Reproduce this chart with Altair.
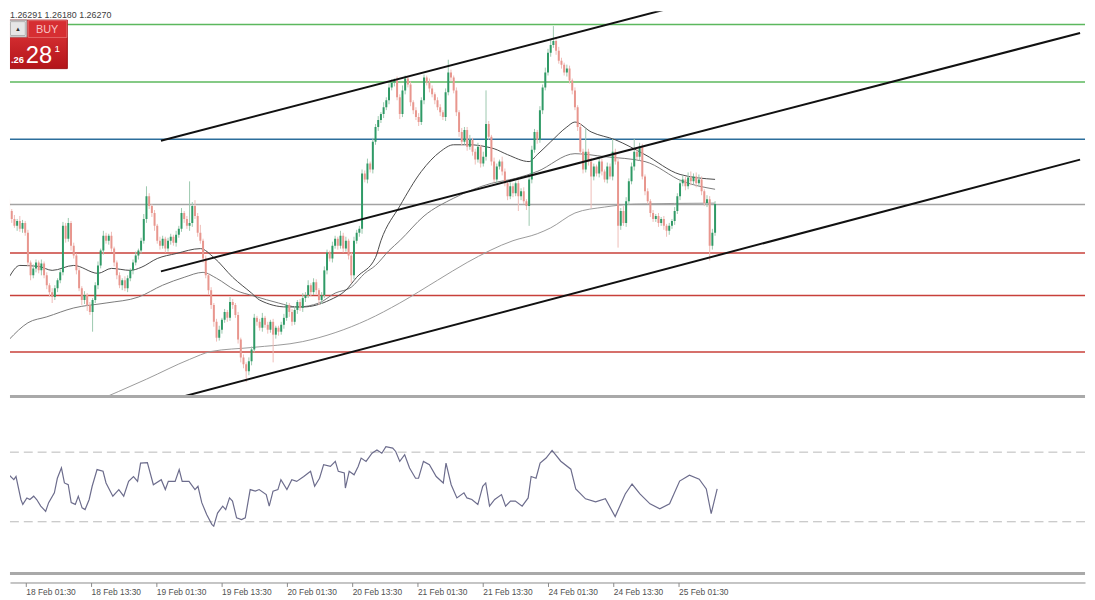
import altair as alt
import pandas as pd

# ---------------- data (GBPUSD-like M30 chart) ----------------
# bar index 0 = 18 Feb 01:30 ; one bar = 30 minutes (weekend bars absent)
first_bar = -8
first_open = 1.2632
closes = [
    1.2620, 1.2612, 1.2605, 1.2610, 1.2602, 1.2608, 1.2598, 1.2568, 1.2555, 1.2562,
    1.2568, 1.2560, 1.2567, 1.2555, 1.2545, 1.2538, 1.2533, 1.2542, 1.2550, 1.2558,
    1.2605, 1.2592, 1.2608, 1.2585, 1.2575, 1.2560, 1.2542, 1.2530, 1.2535, 1.2525,
    1.2518, 1.2530, 1.2545, 1.2565, 1.2580, 1.2595, 1.2590, 1.2595, 1.2582, 1.2568,
    1.2555, 1.2545, 1.2550, 1.2542, 1.2552, 1.2560, 1.2568, 1.2575, 1.2580, 1.2590,
    1.2612, 1.2635, 1.2625, 1.2618, 1.2605, 1.2590, 1.2585, 1.2592, 1.2582, 1.2590,
    1.2594, 1.2588, 1.2596, 1.2602, 1.2618, 1.2612, 1.2605, 1.2608, 1.2625, 1.2615,
    1.2598, 1.2590, 1.2572, 1.2555, 1.2540, 1.2525, 1.2508, 1.2492, 1.2500, 1.2510,
    1.2518, 1.2512, 1.2528, 1.2525, 1.2515, 1.2490, 1.2472, 1.2465, 1.2458, 1.2468,
    1.2480, 1.2512, 1.2508, 1.2502, 1.2512, 1.2505, 1.2500, 1.2508, 1.2495, 1.2502,
    1.2498, 1.2505, 1.2512, 1.2525, 1.2518, 1.2508, 1.2520, 1.2528, 1.2522, 1.2532,
    1.2535, 1.2545, 1.2538, 1.2548, 1.2540, 1.2530, 1.2535, 1.2560, 1.2578, 1.2572,
    1.2585, 1.2592, 1.2585, 1.2595, 1.2582, 1.2590, 1.2575, 1.2555, 1.2590, 1.2598,
    1.2602, 1.2658, 1.2652, 1.2668, 1.2662, 1.2690, 1.2705, 1.2712, 1.2718, 1.2725,
    1.2732, 1.2745, 1.2750, 1.2752, 1.2735, 1.2718, 1.2742, 1.2754, 1.2748, 1.2730,
    1.2722, 1.2715, 1.2710, 1.2732, 1.2755, 1.2750, 1.2744, 1.2738, 1.2732, 1.2725,
    1.2720, 1.2715, 1.2740, 1.2760, 1.2755, 1.2742, 1.2720, 1.2700, 1.2690, 1.2702,
    1.2685, 1.2692, 1.2680, 1.2672, 1.2685, 1.2668, 1.2675, 1.2708, 1.2695, 1.2670,
    1.2652, 1.2665, 1.2670, 1.2660, 1.2648, 1.2635, 1.2645, 1.2638, 1.2648, 1.2635,
    1.2640, 1.2630, 1.2625, 1.2652, 1.2682, 1.2700, 1.2692, 1.2722, 1.2745, 1.2760,
    1.2780, 1.2788, 1.2792, 1.2782, 1.2772, 1.2768, 1.2760, 1.2764, 1.2752, 1.2742,
    1.2725, 1.2705, 1.2680, 1.2662, 1.2680, 1.2670, 1.2655, 1.2665, 1.2658, 1.2670,
    1.2660, 1.2652, 1.2665, 1.2655, 1.2680, 1.2670, 1.2605, 1.2620, 1.2608, 1.2630,
    1.2650, 1.2665, 1.2680, 1.2675, 1.2685, 1.2655, 1.2640, 1.2630, 1.2618, 1.2612,
    1.2615, 1.2608, 1.2612, 1.2605, 1.2600, 1.2605, 1.2610, 1.2620, 1.2635, 1.2648,
    1.2652, 1.2645, 1.2654, 1.2650, 1.2655, 1.2648, 1.2652, 1.2640, 1.2628, 1.2632,
    1.2585, 1.2598, 1.2627,
]
# wick lengths in pips above / below the candle body
upper_wick = [
    3, 2, 4, 2, 5, 3, 2, 3, 2, 4,  3, 2, 4, 2, 3, 2, 4, 3, 2, 3,
    4, 3, 5, 2, 3, 2, 3, 2, 4, 2,  3, 2, 3, 4, 2, 5, 3, 2, 4, 2,
    2, 3, 2, 4, 3, 2, 3, 4, 2, 3,  5, 10, 3, 2, 3, 2, 4, 3, 2, 3,
    3, 2, 4, 3, 5, 2, 3, 42, 4, 6,  3, 8, 2, 3, 2, 3, 2, 3, 4, 2,
    3, 2, 5, 3, 2, 3, 2, 3, 2, 4,  3, 4, 2, 3, 5, 2, 3, 2, 3, 2,
    2, 3, 4, 3, 2, 3, 4, 2, 3, 5,  3, 5, 2, 4, 3, 2, 3, 4, 3, 2,
    4, 3, 2, 5, 3, 4, 2, 3, 4, 3,  3, 4, 3, 5, 2, 4, 3, 4, 2, 5,
    3, 4, 3, 2, 4, 3, 5, 3, 2, 3,  2, 3, 4, 3, 3, 2, 4, 3, 2, 3,
    3, 2, 4, 13, 3, 2, 3, 2, 4, 3,  3, 5, 2, 3, 4, 2, 5, 34, 3, 2,
    4, 3, 2, 5, 3, 2, 4, 3, 2, 3,  3, 4, 2, 3, 4, 3, 2, 4, 3, 5,
    4, 5, 15, 3, 4, 3, 2, 4, 3, 2,  3, 2, 4, 3, 23, 3, 4, 3, 2, 4,
    3, 2, 4, 3, 13, 3, 4, 3, 5, 4,  3, 4, 13, 3, 4, 3, 2, 3, 2, 3,
    2, 3, 2, 3, 2, 3, 2, 4, 3, 4,  4, 3, 5, 6, 3, 4, 5, 3, 2, 4,
    3, 4, 3,
]
lower_wick = [
    3, 4, 2, 5, 3, 4, 3, 4, 5, 3,  4, 3, 5, 3, 4, 5, 6, 3, 4, 3,
    3, 4, 3, 5, 3, 4, 3, 5, 4, 6,  3, 20, 3, 4, 3, 4, 3, 4, 3, 4,
    4, 3, 5, 3, 4, 3, 4, 3, 4, 3,  3, 4, 3, 4, 5, 3, 4, 3, 4, 3,
    4, 3, 4, 3, 3, 4, 3, 5, 4, 3,  4, 3, 4, 3, 5, 4, 5, 4, 3, 4,
    3, 4, 3, 4, 3, 4, 5, 4, 11, 4,  4, 3, 4, 3, 4, 3, 4, 3, 28, 4,
    4, 3, 4, 3, 5, 4, 3, 4, 3, 4,  4, 3, 4, 3, 4, 5, 4, 3, 4, 3,
    4, 3, 4, 3, 4, 3, 4, 8, 4, 3,  4, 5, 3, 4, 3, 4, 3, 4, 3, 4,
    3, 4, 3, 4, 3, 5, 3, 4, 3, 4,  4, 3, 4, 3, 4, 3, 4, 3, 4, 3,
    4, 3, 4, 3, 4, 3, 4, 5, 4, 3,  4, 3, 4, 5, 3, 4, 3, 4, 3, 4,
    3, 4, 3, 4, 3, 4, 3, 4, 3, 15,  4, 3, 4, 20, 4, 3, 4, 3, 4, 3,
    3, 4, 3, 4, 3, 4, 3, 4, 3, 4,  3, 4, 3, 4, 3, 4, 32, 4, 3, 4,
    4, 3, 4, 3, 4, 3, 22, 4, 3, 4,  4, 3, 4, 3, 4, 3, 4, 3, 4, 3,
    3, 4, 3, 4, 6, 4, 3, 4, 3, 4,  3, 4, 3, 4, 3, 4, 3, 4, 3, 4,
    15, 4, 3,
]

tick_bars = [0, 24, 48, 72, 96, 120, 144, 168, 192, 216, 240]
tick_labels = ["18 Feb 01:30", "18 Feb 13:30", "19 Feb 01:30", "19 Feb 13:30",
               "20 Feb 01:30", "20 Feb 13:30", "21 Feb 01:30", "21 Feb 13:30",
               "24 Feb 01:30", "24 Feb 13:30", "25 Feb 01:30"]

level_prices = [1.28085, 1.27505, 1.26925, 1.26265, 1.25775, 1.25345, 1.24775]
level_colors = ["#5cb85e", "#5cb85e", "#2c6e9c", "#a3a3a3", "#c8403a", "#c8403a", "#c8403a"]

ma_fast_bar = [-8, -4, 3, 8, 16, 25, 30, 37, 41, 47, 54, 63, 68, 75, 82, 85, 95, 101, 111, 117,
               121, 128, 130, 137, 145, 152, 157, 163, 169, 172, 177, 185, 188, 193, 199, 202,
               208, 217, 228, 241, 254]
ma_fast_val = [1.2553, 1.2565, 1.2564, 1.2560, 1.2565, 1.2557, 1.2562, 1.2560, 1.2563, 1.2572,
               1.2577, 1.2582, 1.2573, 1.2553, 1.2537, 1.2530, 1.2523, 1.2523, 1.2530, 1.2540,
               1.2553, 1.2573, 1.2590, 1.2625, 1.2660, 1.2680, 1.2687, 1.2687, 1.2685, 1.2683,
               1.2677, 1.2670, 1.2677, 1.2690, 1.2705, 1.2710, 1.2700, 1.2692, 1.2677, 1.2657,
               1.2652]
ma_mid_bar = [-8, -1, 6, 16, 28, 40, 49, 57, 64, 69, 76, 83, 92, 99, 107, 113, 119, 124, 128,
              133, 137, 146, 157, 171, 180, 188, 202, 213, 228, 242, 254]
ma_mid_val = [1.2490, 1.2507, 1.2513, 1.2522, 1.2527, 1.2533, 1.2545, 1.2553, 1.2558, 1.2552,
              1.2540, 1.2534, 1.2527, 1.2523, 1.2527, 1.2537, 1.2543, 1.2557, 1.2565, 1.2580,
              1.2590, 1.2615, 1.2633, 1.2648, 1.2653, 1.2660, 1.2678, 1.2675, 1.2670, 1.2650,
              1.2642]
ma_slow_bar = [22, 43, 59, 67, 82, 101, 113, 125, 137, 151, 162, 179, 188, 193, 202, 213, 224, 254]
ma_slow_val = [1.2425, 1.2450, 1.2470, 1.2478, 1.2482, 1.2488, 1.2497, 1.2510, 1.2527, 1.2550,
               1.2568, 1.2590, 1.2597, 1.2603, 1.2618, 1.2624, 1.2627, 1.2628]

# trend channel anchor points (bar index, price)
channel_names = ["upper", "middle", "lower"]
channel_bar_a = [48.36, 48.36, 56.0]
channel_price_a = [1.2691, 1.2559, 1.2432]
channel_bar_b = [241.45, 389.45, 389.45]
channel_price_b = [1.2828, 1.2800, 1.2672]

rsi_bar = [-8.7, -6.2, -4.4, -3.6, -1.8, -1.1, 0.4, 1.5, 2.9, 4.0,
           5.5, 7.3, 8.4, 10.5, 11.6, 13.1, 14.2, 15.6, 16.7, 18.2,
           19.3, 20.7, 21.8, 23.3, 24.4, 26.2, 28.4, 29.5, 32.0, 34.2,
           36.0, 37.8, 39.6, 41.1, 42.2, 44.7, 46.9, 49.8, 51.3, 52.4,
           54.9, 56.4, 57.5, 60.0, 62.2, 63.3, 64.7, 66.5, 68.4, 69.1,
           70.5, 72.4, 73.5, 74.9, 76.0, 77.5, 79.3, 80.7, 82.5, 84.4,
           85.8, 88.4, 89.5, 90.9, 92.7, 93.8, 96.0, 97.8, 99.6, 102.2,
           104.7, 106.2, 108.0, 109.5, 112.0, 113.8, 114.9, 117.1, 117.5, 118.9,
           120.7, 122.2, 123.3, 125.1, 127.3, 129.1, 130.9, 132.4, 134.9, 136.0,
           137.5, 139.3, 141.1, 143.3, 144.4, 146.2, 148.4, 150.9, 153.5, 154.5,
           156.4, 158.5, 161.1, 162.2, 164.0, 166.2, 168.0, 169.1, 170.5, 172.4,
           174.9, 176.4, 178.2, 180.0, 182.5, 184.7, 185.8, 187.6, 189.1, 191.3,
           193.5, 196.7, 200.4, 202.2, 205.8, 209.5, 213.1, 216.7, 220.4, 222.9,
           225.8, 229.5, 233.1, 236.7, 240.4, 244.0, 247.6, 250.2, 252.0, 254.2]
rsi_val = [63.7, 57, 54.2, 56, 42.8, 40, 43.7, 42.8, 44.7, 42.8,
           39, 36, 41, 46.6, 55, 61, 52.3, 51.3, 41, 40,
           44.7, 38, 37, 42.8, 50.4, 60, 59, 52.3, 44.7, 48.5,
           44.7, 53.2, 56, 53.2, 63.7, 64, 51.3, 54.2, 48.5, 53.2,
           53.2, 60, 53.2, 53.2, 48.5, 50.4, 41, 34.2, 28.5, 27.5,
           35, 39, 37, 43.7, 41.9, 32.3, 31.3, 32.3, 48.5, 47.6,
           48.5, 45.6, 39, 47.6, 48.5, 54.2, 48.5, 54.2, 53.2, 56,
           59, 50.4, 55, 62.8, 61.8, 64.7, 59, 58, 49.4, 59,
           57, 61.8, 66.6, 64.7, 69.4, 71.3, 69.4, 73.2, 72.3, 70.4,
           64.7, 68.5, 60.9, 55, 55, 64.7, 62.8, 56, 52.3, 63.7,
           51.3, 43.7, 46.6, 43.7, 42.8, 39.9, 50.4, 52.3, 39, 42.8,
           45.6, 39, 41.9, 41.9, 39, 43.7, 56, 55, 63.7, 66.6,
           71, 64.8, 60.2, 48.9, 43.2, 41.5, 43.2, 33, 46, 51.7,
           46, 40.3, 37.5, 40.3, 53.4, 56.8, 54.5, 48.9, 34.7, 48.9]
rsi_levels = [70, 30]

header_text = "1.26291 1.26180 1.26270"

# ---------------- tables ----------------
n = len(closes)
opens = [first_open] + closes[:-1]
rows = []
for k in range(n):
    o, c = opens[k], closes[k]
    up = c >= o
    rows.append({
        "bar": first_bar + k, "open": o, "close": c,
        "high": max(o, c) + upper_wick[k] / 10000.0,
        "low": min(o, c) - lower_wick[k] / 10000.0,
        "body": "#2f9a66" if up else "#e8968e",
        "wick": "#9cc8ae" if up else "#efbcb7",
    })
candles = pd.DataFrame(rows)

ma_df = pd.concat([
    pd.DataFrame({"bar": ma_slow_bar, "val": ma_slow_val, "ma": "slow", "color": "#9a9a9a"}),
    pd.DataFrame({"bar": ma_mid_bar, "val": ma_mid_val, "ma": "mid", "color": "#7a7a7a"}),
    pd.DataFrame({"bar": ma_fast_bar, "val": ma_fast_val, "ma": "fast", "color": "#4a4a4a"}),
])
chan_rows = []
for nm, ba, pa, bb, pb in zip(channel_names, channel_bar_a, channel_price_a, channel_bar_b, channel_price_b):
    chan_rows.append({"name": nm, "bar": ba, "price": pa})
    chan_rows.append({"name": nm, "bar": bb, "price": pb})
channels = pd.DataFrame(chan_rows)
rsi_df = pd.DataFrame({"bar": rsi_bar, "rsi": rsi_val})
rsi_lv = pd.DataFrame({"lvl": rsi_levels})
one = pd.DataFrame({"k": [0]})

# ---------------- scales / sizes ----------------
W = 1087
H_MAIN = 390
H_RSI = 176
xs = alt.Scale(domain=[-5.818, 389.45], nice=False, zero=False)
ys = alt.Scale(domain=[1.2432, 1.2822], nice=False, zero=False)
X = alt.X("bar:Q", scale=xs, axis=None)

level_layers = []
for p, col in zip(level_prices, level_colors):
    level_layers.append(
        alt.Chart(pd.DataFrame({"price": [p]})).mark_rule(strokeWidth=1.5, color=col).encode(
            y=alt.Y("price:Q", scale=ys, axis=None)))

mas = alt.Chart(ma_df).mark_line(strokeWidth=1, clip=True, interpolate="monotone").encode(
    x=X, y=alt.Y("val:Q", scale=ys, axis=None), detail="ma:N",
    color=alt.Color("color:N", scale=None))

wicks = alt.Chart(candles).mark_rule(strokeWidth=1, clip=True).encode(
    x=X, y=alt.Y("low:Q", scale=ys, axis=None), y2="high:Q",
    color=alt.Color("wick:N", scale=None))
bodies = alt.Chart(candles).mark_bar(size=2, clip=True).encode(
    x=X, y=alt.Y("open:Q", scale=ys, axis=None), y2="close:Q",
    color=alt.Color("body:N", scale=None))

chan = alt.Chart(channels).mark_line(color="#111111", strokeWidth=2, clip=True).encode(
    x=X, y=alt.Y("price:Q", scale=ys, axis=None), detail="name:N")

sep_main = alt.Chart(one).mark_rule(color="#a9a9a9", strokeWidth=3).encode(y=alt.value(H_MAIN - 0.5))

header = alt.Chart(one).mark_text(text=header_text, align="left", baseline="top", font="Liberation Sans",
                                  fontSize=9, color="#404040").encode(x=alt.value(0), y=alt.value(0))

red_grad = alt.Gradient(gradient="linear", x1=0, x2=0, y1=0, y2=1,
                        stops=[alt.GradientStop(offset=0, color="#e2383b"),
                               alt.GradientStop(offset=1, color="#b3151a")])
red_box = alt.Chart(one).mark_rect(color=red_grad, stroke="#9e1115", strokeWidth=1, clip=True).encode(
    x=alt.value(-2), x2=alt.value(58), y=alt.value(9), y2=alt.value(58))
buy_box = alt.Chart(one).mark_rect(color="#d62e32", stroke="#f08a8a", strokeWidth=0.6, clip=True).encode(
    x=alt.value(18.5), x2=alt.value(57.5), y=alt.value(9.5), y2=alt.value(26.5))
white_box = alt.Chart(one).mark_rect(color="#ffffff", stroke="#9a9a9a", strokeWidth=1, clip=True).encode(
    x=alt.value(-2), x2=alt.value(17), y=alt.value(9), y2=alt.value(26))
btn = alt.Chart(one).mark_rect(color="#e6e6e6", stroke="#b0b0b0", strokeWidth=1, clip=True).encode(
    x=alt.value(0.5), x2=alt.value(15.5), y=alt.value(10.5), y2=alt.value(24.5))
btn_arrow = alt.Chart(one).mark_text(text="▲", fontSize=6, color="#333333", clip=True).encode(
    x=alt.value(8), y=alt.value(17.5))
buy_txt = alt.Chart(one).mark_text(text="BUY", font="Liberation Sans", fontSize=11, color="#f7c4c4",
                                   baseline="middle").encode(x=alt.value(37.5), y=alt.value(19))
small_txt = alt.Chart(one).mark_text(text=".26", font="Liberation Sans", fontSize=9.5, fontWeight="bold",
                                     color="#ffffff", align="left", baseline="alphabetic").encode(
    x=alt.value(1), y=alt.value(52))
big_txt = alt.Chart(one).mark_text(text="28", font="Liberation Sans", fontSize=24, color="#ffffff",
                                   align="left", baseline="alphabetic").encode(x=alt.value(16), y=alt.value(52))
sup_txt = alt.Chart(one).mark_text(text="1", font="Liberation Sans", fontSize=10, color="#ffffff",
                                   align="left", baseline="alphabetic").encode(x=alt.value(45), y=alt.value(41))

main = alt.layer(*level_layers, mas, wicks, bodies, chan, sep_main, header,
                 red_box, buy_box, white_box, btn, btn_arrow, buy_txt, small_txt, big_txt, sup_txt
                 ).properties(width=W, height=H_MAIN)

# ---------------- RSI panel ----------------
label_expr = "[" + ",".join("'%s'" % t for t in tick_labels) + "][indexof([" + \
    ",".join(str(b) for b in tick_bars) + "], datum.value)]"
x_axis = alt.Axis(values=tick_bars, labelExpr=label_expr, orient="bottom", offset=8.6,
                  domainColor="#8a8a8a", domainWidth=1, tickColor="#8a8a8a", tickSize=4, tickWidth=1,
                  labelAlign="left", labelBaseline="top", labelPadding=1, labelFontSize=8.5,
                  labelFont="Liberation Sans", labelColor="#505050", labelFlush=False,
                  labelOverlap=False, labelBound=False, grid=False, title=None)

rsi_lines = alt.Chart(rsi_lv).mark_rule(color="#b8b8b8", strokeWidth=1, strokeDash=[9, 5]).encode(
    y=alt.Y("lvl:Q", scale=alt.Scale(domain=[0, 100], nice=False), axis=None))
rsi_line = alt.Chart(rsi_df).mark_line(color="#6c6c8c", strokeWidth=1.2, clip=True).encode(
    x=alt.X("bar:Q", scale=xs, axis=x_axis),
    y=alt.Y("rsi:Q", scale=alt.Scale(domain=[0, 100], nice=False), axis=None))
sep_rsi = alt.Chart(one).mark_rule(color="#a9a9a9", strokeWidth=3).encode(y=alt.value(H_RSI - 0.5))

rsi = alt.layer(rsi_lines, rsi_line, sep_rsi).properties(width=W, height=H_RSI)

chart = alt.vconcat(main, rsi, spacing=2).properties(padding=0, background="#ffffff").configure_view(
    stroke=None).configure_concat(spacing=2)

chart.save("out.html", embed_options={"renderer": "svg", "actions": False})
